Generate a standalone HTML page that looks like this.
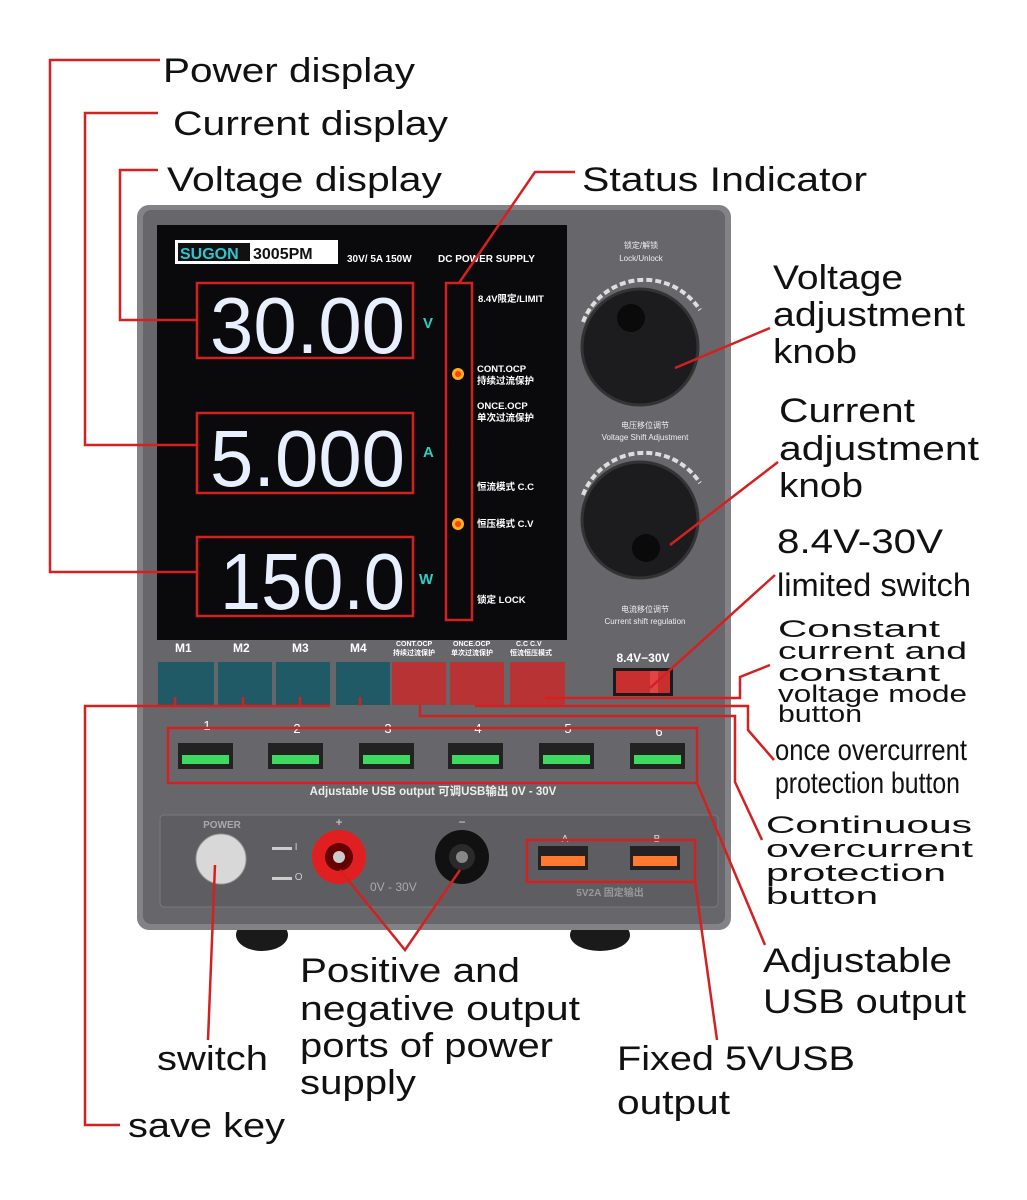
<!DOCTYPE html>
<html><head><meta charset="utf-8"><style>
html,body{margin:0;padding:0;background:#fff;}
svg{display:block}
text{font-family:"Liberation Sans","Noto Sans CJK SC",sans-serif;}
</style></head><body>
<svg width="1027" height="1200" viewBox="0 0 1027 1200" xmlns="http://www.w3.org/2000/svg">
<rect width="1027" height="1200" fill="#fff"/>
<ellipse cx="262" cy="935" rx="26" ry="16" fill="#1a1a1a"/>
<ellipse cx="600" cy="935" rx="30" ry="16" fill="#1a1a1a"/>
<rect x="137" y="205" width="594" height="725" rx="12" fill="#838387"/>
<rect x="143" y="210" width="582" height="714" rx="8" fill="#67676b"/>
<rect x="157" y="225" width="410" height="415" fill="#0a0a0c"/>
<rect x="175" y="240" width="163" height="24" fill="#fff"/>
<rect x="178" y="243" width="72" height="18" fill="#111"/>
<text x="180" y="259" font-size="16" font-weight="bold" fill="#2fc4d0">SUGON</text>
<text x="253" y="259" font-size="16" font-weight="bold" fill="#111">3005PM</text>
<text x="347" y="262" font-size="10" font-weight="bold" fill="#fff">30V/ 5A 150W</text>
<text x="438" y="262" font-size="10" font-weight="bold" fill="#fff">DC POWER SUPPLY</text>
<g fill="none" stroke="#d42020" stroke-width="2.5">
<rect x="197" y="283" width="216" height="75"/>
<rect x="197" y="413" width="216" height="80"/>
<rect x="197" y="537" width="216" height="79"/>
<rect x="446" y="283" width="26" height="337"/>
</g>
<g font-family="Liberation Mono,monospace" fill="#e8f0ff">
<text x="210" y="353" textLength="195" lengthAdjust="spacingAndGlyphs" font-size="80">30.00</text>
<text x="210" y="486" textLength="195" lengthAdjust="spacingAndGlyphs" font-size="80">5.000</text>
<text x="220" y="609" textLength="185" lengthAdjust="spacingAndGlyphs" font-size="80">150.0</text>
</g>
<text x="423" y="328" font-size="15" font-weight="bold" fill="#2ecfc0">V</text>
<text x="423" y="457" font-size="15" font-weight="bold" fill="#2ecfc0">A</text>
<text x="419" y="584" font-size="15" font-weight="bold" fill="#2ecfc0">W</text>
<circle cx="458" cy="374" r="6" fill="#ffb020"/><circle cx="458" cy="374" r="3" fill="#ff4010"/>
<circle cx="458" cy="524" r="6" fill="#ffb020"/><circle cx="458" cy="524" r="3" fill="#ff4010"/>
<g font-size="9.5" font-weight="bold" fill="#fff">
<text x="478" y="302">8.4V限定/LIMIT</text>
<text x="477" y="372">CONT.OCP</text><text x="477" y="384">持续过流保护</text>
<text x="477" y="409">ONCE.OCP</text><text x="477" y="421">单次过流保护</text>
<text x="477" y="490">恒流模式 C.C</text>
<text x="477" y="527">恒压模式 C.V</text>
<text x="477" y="603">锁定  LOCK</text>
</g>
<g font-size="12" font-weight="bold" fill="#fff">
<text x="175" y="652">M1</text><text x="233" y="652">M2</text><text x="292" y="652">M3</text><text x="350" y="652">M4</text>
</g>
<g font-size="7" font-weight="bold" fill="#fff">
<text x="396" y="646">CONT.OCP</text><text x="393" y="655">持续过流保护</text>
<text x="453" y="646">ONCE.OCP</text><text x="451" y="655">单次过流保护</text>
<text x="516" y="646">C.C  C.V</text><text x="510" y="655">恒流恒压模式</text>
</g>
<g fill="#1f5a66"><rect x="158" y="662" width="56" height="43"/><rect x="218" y="662" width="54" height="43"/><rect x="276" y="662" width="54" height="43"/><rect x="336" y="662" width="54" height="43"/></g>
<g fill="#b83434"><rect x="392" y="662" width="54" height="43"/><rect x="450" y="662" width="54" height="43"/><rect x="510" y="662" width="55" height="43"/></g>
<g font-size="8" fill="#eee" text-anchor="middle">
<text x="641" y="248">锁定/解锁</text><text x="641" y="261">Lock/Unlock</text>
<text x="645" y="428">电压移位调节</text><text x="645" y="440">Voltage Shift Adjustment</text>
<text x="645" y="612">电流移位调节</text><text x="645" y="624">Current shift regulation</text>
</g>
<path d="M583 322 A66 66 0 0 1 700 310" fill="none" stroke="#ddd" stroke-width="4" stroke-dasharray="6 3"/>
<path d="M583 495 A66 66 0 0 1 700 483" fill="none" stroke="#ddd" stroke-width="4" stroke-dasharray="6 3"/>
<circle cx="640" cy="347" r="58" fill="#1c1c1e" stroke="#333" stroke-width="3"/>
<circle cx="631" cy="318" r="14" fill="#0a0a0a"/>
<circle cx="640" cy="520" r="58" fill="#1c1c1e" stroke="#333" stroke-width="3"/>
<circle cx="646" cy="548" r="14" fill="#0a0a0a"/>
<text x="643" y="662" font-size="12" font-weight="bold" fill="#fff" text-anchor="middle">8.4V−30V</text>
<rect x="613" y="668" width="60" height="28" fill="#1a1a1a"/>
<rect x="616" y="671" width="54" height="22" fill="#c83030"/>
<rect x="650" y="671" width="8" height="22" fill="#e04444"/>
<g font-size="13" fill="#fff" text-anchor="middle">
<text x="207" y="730">1</text><text x="297" y="733">2</text><text x="388" y="733">3</text><text x="478" y="733">4</text><text x="568" y="733">5</text><text x="659" y="736">6</text>
</g>
<g fill="#222">
<rect x="178" y="743" width="55" height="26"/><rect x="268" y="743" width="55" height="26"/><rect x="359" y="743" width="55" height="26"/><rect x="448" y="743" width="55" height="26"/><rect x="539" y="743" width="55" height="26"/><rect x="630" y="743" width="55" height="26"/>
</g>
<g fill="#3fd860">
<rect x="182" y="755" width="47" height="9"/><rect x="272" y="755" width="47" height="9"/><rect x="363" y="755" width="47" height="9"/><rect x="452" y="755" width="47" height="9"/><rect x="543" y="755" width="47" height="9"/><rect x="634" y="755" width="47" height="9"/>
</g>
<rect x="168" y="728" width="529" height="55" fill="none" stroke="#d42020" stroke-width="2.5"/>
<text x="433" y="795" font-size="11.5" font-weight="bold" fill="#eee" text-anchor="middle">Adjustable USB output  可调USB输出 0V - 30V</text>
<rect x="160" y="815" width="558" height="92" rx="4" fill="#5e5e62" stroke="#7a7a7e"/>
<text x="222" y="828" font-size="10" font-weight="bold" fill="#aaa" text-anchor="middle">POWER</text>
<circle cx="221" cy="859" r="25" fill="#d8d8d8" stroke="#999"/>
<text x="272" y="850" font-size="10" fill="#ccc">▬▬ I</text>
<text x="272" y="880" font-size="10" fill="#ccc">▬▬ O</text>
<text x="339" y="826" font-size="12" fill="#ddd" text-anchor="middle">+</text>
<circle cx="339" cy="857" r="27" fill="#e02020"/><circle cx="339" cy="857" r="14" fill="#600"/><circle cx="339" cy="857" r="6" fill="#ccc"/>
<text x="462" y="826" font-size="12" fill="#ddd" text-anchor="middle">−</text>
<circle cx="462" cy="857" r="27" fill="#111"/><circle cx="462" cy="857" r="13" fill="#2a2a2a"/><circle cx="462" cy="857" r="6" fill="#888"/>
<text x="370" y="891" font-size="12" fill="#aaa">0V - 30V</text>
<text x="565" y="842" font-size="10" fill="#ddd" text-anchor="middle">A</text>
<text x="657" y="842" font-size="10" fill="#ddd" text-anchor="middle">B</text>
<rect x="538" y="846" width="50" height="24" fill="#222"/><rect x="541" y="856" width="44" height="10" fill="#ff7a30"/>
<rect x="630" y="846" width="50" height="24" fill="#222"/><rect x="633" y="856" width="44" height="10" fill="#ff7a30"/>
<rect x="527" y="840" width="168" height="42" fill="none" stroke="#d42020" stroke-width="2.5"/>
<text x="610" y="896" font-size="10" font-weight="bold" fill="#999" text-anchor="middle">5V2A 固定输出</text>
<g fill="none" stroke="#d42020" stroke-width="2.5">
<polyline points="160,60 50,60 50,572 197,572"/>
<polyline points="158,113 85,113 85,445 197,445"/>
<polyline points="158,170 120,170 120,320 197,320"/>
<polyline points="575,172 535,172 459,283"/>
<line x1="770" y1="328" x2="675" y2="368"/>
<line x1="778" y1="462" x2="670" y2="545"/>
<line x1="775" y1="575" x2="650" y2="688"/>
<polyline points="770,665 740,677 740,698 545,698"/>
<polyline points="475,706 748,706 748,730 774,760"/>
<polyline points="420,705 420,716 735,716 735,782 762,840"/>
<line x1="697" y1="783" x2="765" y2="945"/>
<line x1="695" y1="882" x2="717" y2="1040"/>
<polyline points="330,706 85,706 85,1125 120,1125"/>
<line x1="175" y1="706" x2="175" y2="697"/><line x1="243" y1="706" x2="243" y2="697"/><line x1="300" y1="706" x2="300" y2="697"/><line x1="360" y1="706" x2="360" y2="697"/>
<polyline points="340,870 405,950 460,870"/>
<line x1="215" y1="865" x2="208" y2="1040"/>
</g>
<g font-size="34" fill="#111" lengthAdjust="spacingAndGlyphs">
<text x="163" y="82" textLength="252" lengthAdjust="spacingAndGlyphs">Power display</text>
<text x="173" y="135" textLength="275" lengthAdjust="spacingAndGlyphs">Current display</text>
<text x="167" y="191" textLength="275" lengthAdjust="spacingAndGlyphs">Voltage display</text>
<text x="582" y="191" textLength="285" lengthAdjust="spacingAndGlyphs">Status Indicator</text>
<text x="773" y="289" textLength="130" lengthAdjust="spacingAndGlyphs">Voltage</text><text x="773" y="326" textLength="192" lengthAdjust="spacingAndGlyphs">adjustment</text><text x="773" y="363" textLength="84" lengthAdjust="spacingAndGlyphs">knob</text>
<text x="779" y="422" textLength="136" lengthAdjust="spacingAndGlyphs">Current</text><text x="779" y="460" textLength="200" lengthAdjust="spacingAndGlyphs">adjustment</text><text x="779" y="497" textLength="84" lengthAdjust="spacingAndGlyphs">knob</text>
<text x="777" y="553" textLength="166" lengthAdjust="spacingAndGlyphs">8.4V-30V</text>
<text x="763" y="972" textLength="189" lengthAdjust="spacingAndGlyphs">Adjustable</text><text x="763" y="1013" textLength="203" lengthAdjust="spacingAndGlyphs">USB output</text>
<text x="300" y="982" textLength="220" lengthAdjust="spacingAndGlyphs">Positive and</text><text x="300" y="1020" textLength="280" lengthAdjust="spacingAndGlyphs">negative output</text><text x="300" y="1057" textLength="253" lengthAdjust="spacingAndGlyphs">ports of power</text><text x="300" y="1094" textLength="116" lengthAdjust="spacingAndGlyphs">supply</text>
<text x="157" y="1070" textLength="111" lengthAdjust="spacingAndGlyphs">switch</text>
<text x="617" y="1070" textLength="238" lengthAdjust="spacingAndGlyphs">Fixed 5VUSB</text><text x="617" y="1114" textLength="113" lengthAdjust="spacingAndGlyphs">output</text>
<text x="128" y="1137" textLength="157" lengthAdjust="spacingAndGlyphs">save key</text>
</g>
<text x="777" y="596" font-size="32" fill="#111" textLength="194" lengthAdjust="spacingAndGlyphs">limited switch</text>
<g font-size="24" fill="#111">
<text x="778" y="637" textLength="162" lengthAdjust="spacingAndGlyphs">Constant</text><text x="778" y="659" textLength="189" lengthAdjust="spacingAndGlyphs">current and</text><text x="778" y="681" textLength="162" lengthAdjust="spacingAndGlyphs">constant</text><text x="778" y="702" textLength="189" lengthAdjust="spacingAndGlyphs">voltage mode</text><text x="778" y="722" textLength="84" lengthAdjust="spacingAndGlyphs">button</text>
<text x="766" y="833" textLength="206" lengthAdjust="spacingAndGlyphs">Continuous</text><text x="766" y="857" textLength="207" lengthAdjust="spacingAndGlyphs">overcurrent</text><text x="766" y="881" textLength="180" lengthAdjust="spacingAndGlyphs">protection</text><text x="766" y="904" textLength="112" lengthAdjust="spacingAndGlyphs">button</text>
</g>
<text x="775" y="760" font-size="30" fill="#111" textLength="192" lengthAdjust="spacingAndGlyphs">once  overcurrent</text>
<text x="775" y="793" font-size="30" fill="#111" textLength="185" lengthAdjust="spacingAndGlyphs">protection button</text>
</svg>
</body></html>
